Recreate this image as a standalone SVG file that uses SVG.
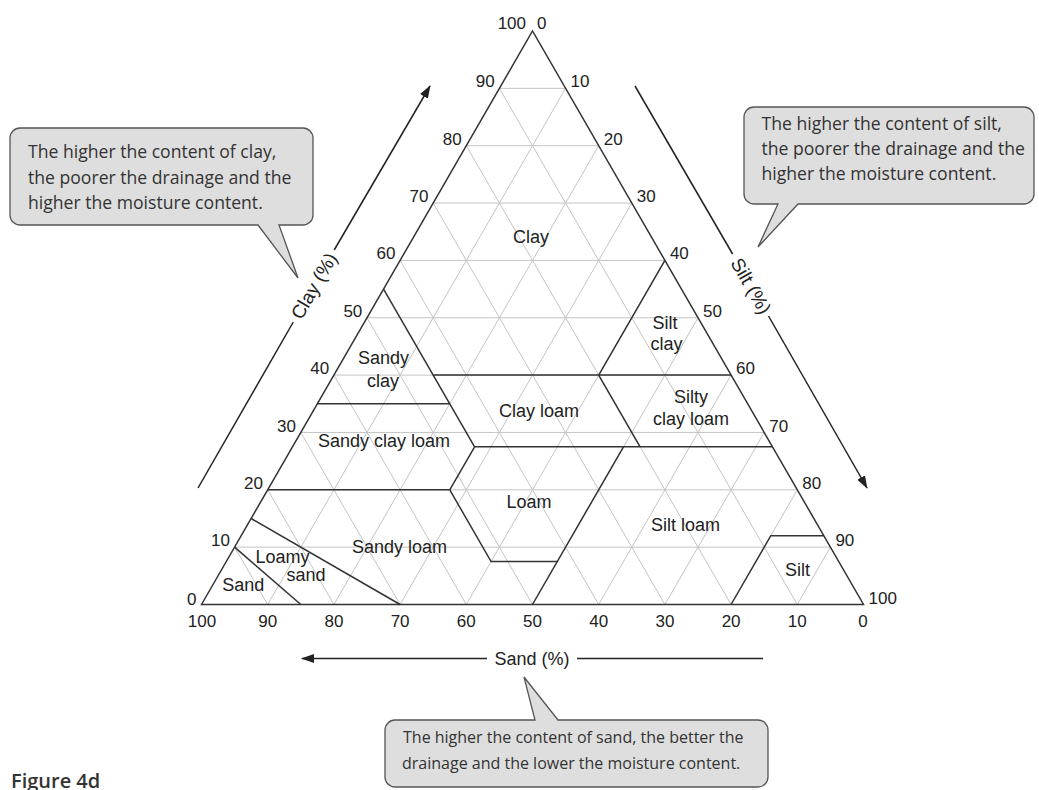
<svg xmlns="http://www.w3.org/2000/svg" width="1039" height="790" viewBox="0 0 1039 790">
<defs>
<style>
.grid{stroke:#c4c4c4;stroke-width:1;fill:none}
.edge{stroke:#333;stroke-width:1.5;fill:none;stroke-linejoin:miter}
.bnd{stroke:#333;stroke-width:1.5;fill:none}
.axis{stroke:#222;stroke-width:1.5;fill:none}
.num{font-family:"Liberation Sans",Arial,sans-serif;font-size:17px;fill:#222}
.reg{font-family:"Liberation Sans",Arial,sans-serif;font-size:18px;fill:#222;text-anchor:middle}
.ax{font-family:"Liberation Sans",Arial,sans-serif;font-size:18px;fill:#222;text-anchor:middle}
.box{fill:#dedede;stroke:#555;stroke-width:1.3}
.note{font-family:"Open Sans","Liberation Sans",sans-serif;font-size:17.6px;fill:#333}
.note2{font-family:"Open Sans","Liberation Sans",sans-serif;font-size:16px;fill:#333}
.fig{font-family:"Open Sans","Liberation Sans",sans-serif;font-size:20px;font-weight:600;fill:#333}
</style>
<marker id="arr" viewBox="0 0 13 9" refX="12" refY="4.5" markerWidth="13" markerHeight="9" markerUnits="userSpaceOnUse" orient="auto">
<path d="M0,0 L13,4.5 L0,9 Z" fill="#222"/>
</marker>
</defs>
<rect width="1039" height="790" fill="#fff"/>

<g id="grid">
<path class="grid" d="M234.6,547.15H830.4M267.7,489.8H797.3M300.8,432.45H764.2M333.9,375.1H731.1M367,317.75H698M400.1,260.4H664.9M433.2,203.05H631.8M466.3,145.7H598.7M499.4,88.35H565.6"/>
<path class="grid" d="M267.7,604.5L565.6,88.35M333.9,604.5L598.7,145.7M400.1,604.5L631.8,203.05M466.3,604.5L664.9,260.4M532.5,604.5L698,317.75M598.7,604.5L731.1,375.1M664.9,604.5L764.2,432.45M731.1,604.5L797.3,489.8M797.3,604.5L830.4,547.15"/>
<path class="grid" d="M797.3,604.5L499.4,88.35M731.1,604.5L466.3,145.7M664.9,604.5L433.2,203.05M598.7,604.5L400.1,260.4M532.5,604.5L367,317.75M466.3,604.5L333.9,375.1M400.1,604.5L300.8,432.45M333.9,604.5L267.7,489.8M267.7,604.5L234.6,547.15"/>
</g>

<g id="triangle">
<path class="edge" d="M201.5,604.5 L532.5,31 L863.5,604.5 Z"/>
</g>

<g id="boundaries">
<path class="bnd" d="M383.55,289.1 L474.6,446.8"/>
<path class="bnd" d="M433.2,375.1 H731.1"/>
<path class="bnd" d="M317.35,403.8 H449.75"/>
<path class="bnd" d="M598.7,375.1 L664.9,260.4"/>
<path class="bnd" d="M598.7,375.1 L640.1,446.8"/>
<path class="bnd" d="M474.6,446.8 H772.5"/>
<path class="bnd" d="M474.6,446.8 L449.75,489.8"/>
<path class="bnd" d="M267.7,489.8 H449.75"/>
<path class="bnd" d="M449.75,489.8 L491.1,561.5 H557.3"/>
<path class="bnd" d="M532.5,604.5 L623.5,446.8"/>
<path class="bnd" d="M731.1,604.5 L770.8,535.7 H823.8"/>
<path class="bnd" d="M234.6,547.15 L300.8,604.5"/>
<path class="bnd" d="M251.15,518.5 L400.1,604.5"/>
</g>

<g id="clay-scale" class="num" text-anchor="end">
<text x="196.5" y="605">0</text>
<text x="230" y="546.2">10</text>
<text x="263" y="488.8">20</text>
<text x="296" y="431.5">30</text>
<text x="329.2" y="374.1">40</text>
<text x="362.3" y="316.8">50</text>
<text x="395.4" y="259.4">60</text>
<text x="428.5" y="202">70</text>
<text x="461.6" y="144.7">80</text>
<text x="494.7" y="87.4">90</text>
<text x="526" y="28.5">100</text>
</g>

<g id="silt-scale" class="num" text-anchor="start">
<text x="537" y="28.5">0</text>
<text x="570.6" y="87.4">10</text>
<text x="603.7" y="144.7">20</text>
<text x="636.8" y="202">30</text>
<text x="669.9" y="259.4">40</text>
<text x="703" y="316.8">50</text>
<text x="736.1" y="374.1">60</text>
<text x="769.2" y="431.5">70</text>
<text x="802.3" y="488.8">80</text>
<text x="835.4" y="546.2">90</text>
<text x="868.5" y="604">100</text>
</g>

<g id="sand-scale" class="num" text-anchor="middle">
<text x="202" y="626.5">100</text>
<text x="267.7" y="626.5">90</text>
<text x="333.9" y="626.5">80</text>
<text x="400.1" y="626.5">70</text>
<text x="466.3" y="626.5">60</text>
<text x="532.5" y="626.5">50</text>
<text x="598.7" y="626.5">40</text>
<text x="664.9" y="626.5">30</text>
<text x="731.1" y="626.5">20</text>
<text x="797.3" y="626.5">10</text>
<text x="863" y="626.5">0</text>
</g>

<g id="regions" class="reg">
<text x="531" y="243">Clay</text>
<text x="383.5" y="363.5">Sandy</text>
<text x="383" y="386.5">clay</text>
<text x="384" y="446.5">Sandy clay loam</text>
<text x="539" y="416.5">Clay loam</text>
<text x="529" y="508">Loam</text>
<text x="665" y="329">Silt</text>
<text x="666.5" y="350">clay</text>
<text x="691" y="403">Silty</text>
<text x="691" y="425">clay loam</text>
<text x="685.5" y="531">Silt loam</text>
<text x="797.5" y="575.5">Silt</text>
<text x="399.5" y="553">Sandy loam</text>
<text x="282.5" y="563">Loamy</text>
<text x="306" y="581">sand</text>
<text x="243.3" y="590.5">Sand</text>
</g>

<g id="axes">
<path class="axis" d="M198,488 L293.3,322"/>
<path class="axis" d="M334.2,250 L430,86" marker-end="url(#arr)"/>
<text class="ax" style="font-size:19px" transform="translate(314,286) rotate(-60)" y="6.5">Clay (%)</text>
<path class="axis" d="M635,86 L732.6,254"/>
<path class="axis" d="M768.5,316 L867,488" marker-end="url(#arr)"/>
<text class="ax" style="font-size:19px" transform="translate(751,286) rotate(60)" y="6.5">Silt (%)</text>
<path class="axis" d="M487,658.5 H302" marker-end="url(#arr)"/>
<path class="axis" d="M577,658.5 H763"/>
<text class="ax" x="532" y="665">Sand (%)</text>
</g>

<g id="note-clay">
<path class="box" d="M20,128 H303 A10,10 0 0 1 313,138 V215 A10,10 0 0 1 303,225 H279 L298,278 L258,225 H20 A10,10 0 0 1 10,215 V138 A10,10 0 0 1 20,128 Z"/>
<text class="note" x="28" y="158">The higher the content of clay,</text>
<text class="note" x="28" y="183.5">the poorer the drainage and the</text>
<text class="note" x="28" y="209">higher the moisture content.</text>
</g>

<g id="note-silt">
<path class="box" d="M754,107 H1024 A10,10 0 0 1 1034,117 V194 A10,10 0 0 1 1024,204 H798 L758,247 L778,204 H754 A10,10 0 0 1 744,194 V117 A10,10 0 0 1 754,107 Z"/>
<text class="note" x="761.5" y="130">The higher the content of silt,</text>
<text class="note" x="761.5" y="155">the poorer the drainage and the</text>
<text class="note" x="761.5" y="180">higher the moisture content.</text>
</g>

<g id="note-sand">
<path class="box" d="M395,720 H535 L524,677 L558,720 H758 A10,10 0 0 1 768,730 V777 A10,10 0 0 1 758,787 H395 A10,10 0 0 1 385,777 V730 A10,10 0 0 1 395,720 Z"/>
<text class="note2" x="403" y="743">The higher the content of sand, the better the</text>
<text class="note2" x="402" y="768.5">drainage and the lower the moisture content.</text>
</g>

<text class="fig" x="11" y="788">Figure 4d</text>
</svg>
